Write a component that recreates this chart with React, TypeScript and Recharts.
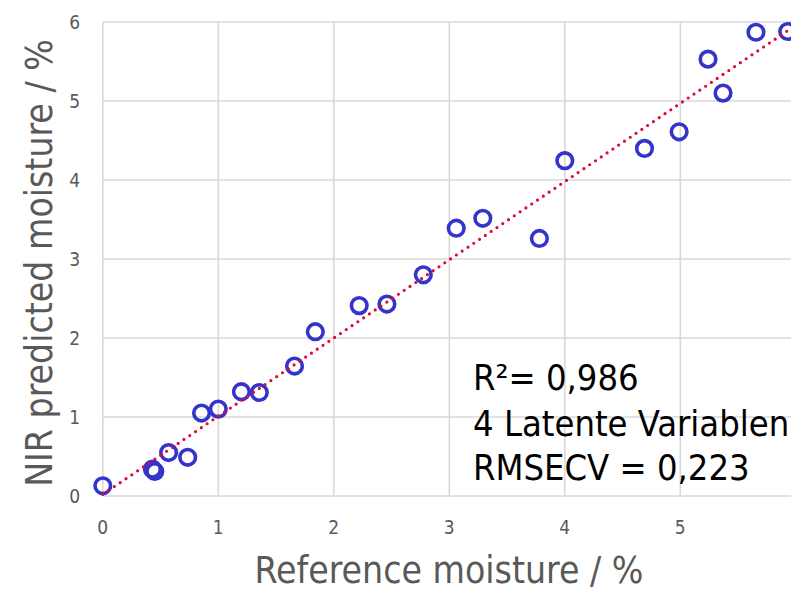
import { CartesianGrid, Label, Scatter, ScatterChart, XAxis, YAxis } from "recharts";

// reference vs. NIR predicted moisture (%)
const referenceMoisture = [
  0, 0.43, 0.45, 0.57, 0.735, 0.855, 1.0, 1.2, 1.355, 1.66, 1.84, 2.22, 2.46,
  2.775, 3.06, 3.29, 3.78, 4.0, 4.69, 4.99, 5.24, 5.37, 5.655, 5.93,
];
const predictedMoisture = [
  0.13, 0.34, 0.31, 0.55, 0.49, 1.05, 1.1, 1.32, 1.31, 1.645, 2.08, 2.41, 2.43,
  2.8, 3.39, 3.515, 3.26, 4.245, 4.4, 4.61, 5.53, 5.1, 5.87, 5.88,
];

// linear trendline endpoints
const trendX = [0, 6];
const trendY = [0.02, 5.96];

const axisTicks = [0, 1, 2, 3, 4, 5, 6];

const statsLines = ["R²= 0,986", "4 Latente Variablen", "RMSECV = 0,223"];

const points = referenceMoisture.map((x, i) => ({ x, y: predictedMoisture[i] }));
const trend = trendX.map((x, i) => ({ x, y: trendY[i] }));

const FONT = "'DejaVu Sans Condensed', 'DejaVu Sans', sans-serif";
const GREY = "#595959";

function Ring(props: any) {
  return (
    <circle
      cx={props.cx}
      cy={props.cy}
      r={7.8}
      fill="none"
      stroke="#3434CC"
      strokeWidth={3.6}
    />
  );
}

export default function App() {
  return (
    <div
      style={{
        position: "absolute",
        left: 0,
        top: 0,
        width: 791,
        height: 592,
        overflow: "hidden",
        background: "#fff",
      }}
    >
      <ScatterChart
        width={800}
        height={592}
        margin={{ top: 22, right: 4.2, bottom: 0, left: 0 }}
        style={{ fontFamily: FONT }}
      >
        <CartesianGrid stroke="#D9D9D9" strokeWidth={1.6} />
        <XAxis
          type="number"
          dataKey="x"
          domain={[0, 6]}
          ticks={axisTicks}
          interval={0}
          height={96}
          axisLine={false}
          tickLine={false}
          tickSize={0}
          tickMargin={25}
          tick={{ fill: GREY, fontSize: 19, fontFamily: FONT }}
        >
          <Label
            content={() => (
              <text
                x={449}
                y={583}
                textAnchor="middle"
                fill={GREY}
                fontSize={37}
                fontFamily={FONT}
              >
                Reference moisture / %
              </text>
            )}
          />
        </XAxis>
        <YAxis
          type="number"
          dataKey="y"
          domain={[0, 6]}
          ticks={axisTicks}
          interval={0}
          width={102.8}
          axisLine={false}
          tickLine={false}
          tickSize={0}
          tickMargin={22.8}
          tick={{ fill: GREY, fontSize: 19, fontFamily: FONT }}
        >
          <Label
            content={() => (
              <text
                x={52}
                y={263}
                transform="rotate(-90 52 263)"
                textAnchor="middle"
                fill={GREY}
                fontSize={37}
                fontFamily={FONT}
              >
                NIR predicted moisture / %
              </text>
            )}
          />
        </YAxis>
        <Scatter data={points} shape={<Ring />} isAnimationActive={false} />
        <Scatter
          data={trend}
          line={{
            stroke: "#DC0A36",
            strokeWidth: 3.2,
            strokeDasharray: "0 7",
            strokeLinecap: "round",
          }}
          lineType="joint"
          shape={() => <g />}
          isAnimationActive={false}
        />
      </ScatterChart>
      <svg
        width={791}
        height={592}
        style={{ position: "absolute", left: 0, top: 0, pointerEvents: "none" }}
      >
        {statsLines.map((line, i) => (
          <text
            key={line}
            x={473}
            y={[390, 436, 480][i]}
            fill="#000"
            fontSize={36}
            fontFamily={FONT}
          >
            {line}
          </text>
        ))}
      </svg>
    </div>
  );
}
